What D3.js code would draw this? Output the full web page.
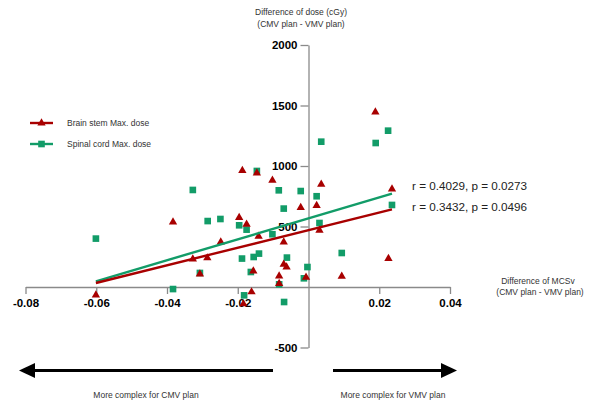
<!DOCTYPE html>
<html>
<head>
<meta charset="utf-8">
<script src="https://cdn.jsdelivr.net/npm/d3@7"></script>
<style>
  body { margin: 0; background: #fff; }
  svg { display: block; font-family: "Liberation Sans", Arial, sans-serif; }
</style>
</head>
<body>
<div id="chart"></div>
<script>
// Difference of MCSv (x) vs difference of dose in cGy (y)
const brainStem = [
  [-0.0601, -66], [-0.0383, 537], [-0.0327, 231], [-0.0307, 107], [-0.0286, 240],
  [-0.0248, 372], [-0.0196, 574], [-0.0187, 963], [-0.0184, -140], [-0.0175, 518],
  [-0.0161, -41], [-0.0156, 132], [-0.0146, 942], [-0.0141, 419], [-0.0102, 882],
  [-0.0083, 91], [-0.0083, 28], [-0.0070, 372], [-0.0070, 188], [-0.0062, 165],
  [-0.0022, 656], [-0.0007, 80], [0.0023, 673], [0.0031, 469], [0.0036, 849],
  [0.0094, 88], [0.0189, 1446], [0.0226, 235], [0.0236, 810]
];
const spinalCord = [
  [-0.0601, 400], [-0.0383, -17], [-0.0327, 802], [-0.0307, 116], [-0.0285, 545],
  [-0.0249, 562], [-0.0196, 510], [-0.0188, 235], [-0.0182, -69], [-0.0175, 474],
  [-0.0163, 124], [-0.0155, 248], [-0.0146, 959], [-0.0140, 276], [-0.0102, 436],
  [-0.0084, 799], [-0.0083, 22], [-0.0070, 648], [-0.0069, -124], [-0.0061, 243],
  [-0.0022, 793], [-0.0013, 72], [-0.0003, 165], [0.0023, 750], [0.0031, 529],
  [0.0036, 1201], [0.0094, 281], [0.0190, 1190], [0.0225, 1292], [0.0236, 678]
];
// regression line end points
const brainFit = [[-0.0601, 33], [0.0236, 642]];
const spinalFit = [[-0.0601, 47], [0.0236, 772]];

const xTicks = [-0.08, -0.06, -0.04, -0.02, 0.02, 0.04];
const yTicks = [-500, 500, 1000, 1500, 2000];
const statLabels = ['r = 0.4029, p = 0.0273', 'r = 0.3432, p = 0.0496'];
const seriesNames = ['Brain stem Max. dose', 'Spinal cord Max. dose'];

const red = '#a80000', green = '#129c68', axisGray = '#8a8a8a';

const svg = d3.select('#chart').append('svg')
  .attr('width', 589)
  .attr('height', 404);

const x = d3.scaleLinear().domain([-0.08, 0.04]).range([25.5, 450]);
const y = d3.scaleLinear().domain([-500, 2000]).range([347.5, 45]);

// axes
const xAxis = svg.append('g')
  .attr('transform', `translate(0,${y(0)})`)
  .call(d3.axisBottom(x).tickValues(xTicks).tickSize(7).tickSizeOuter(0).tickPadding(5)
    .tickFormat(d => d.toFixed(2)));
const yAxis = svg.append('g')
  .attr('transform', `translate(${x(0)},0)`)
  .call(d3.axisLeft(y).tickValues(yTicks).tickSize(8).tickSizeOuter(0).tickPadding(3)
    .tickFormat(d => String(d)));

[xAxis, yAxis].forEach(g => {
  g.selectAll('path, line').attr('stroke', axisGray).attr('stroke-width', 1.3);
  g.selectAll('text')
    .attr('fill', '#000')
    .style('font-size', '11.5px')
    .style('font-weight', 'bold')
    .style('font-family', '"Liberation Sans", Arial, sans-serif');
});

// axis titles
const titles = svg.append('g').attr('fill', '#333').style('font-size', '8.5px');
titles.append('text').attr('x', 301).attr('y', 15).attr('text-anchor', 'middle')
  .text('Difference of dose (cGy)');
titles.append('text').attr('x', 301).attr('y', 26.5).attr('text-anchor', 'middle')
  .text('(CMV plan - VMV plan)');
titles.append('text').attr('x', 538).attr('y', 283.5).attr('text-anchor', 'middle')
  .text('Difference of MCSv');
titles.append('text').attr('x', 540).attr('y', 295).attr('text-anchor', 'middle')
  .text('(CMV plan - VMV plan)');

// points
const tri = d3.symbol(d3.symbolTriangle, 30);
const sq = d3.symbol(d3.symbolSquare, 44);

svg.append('g').selectAll('path')
  .data(spinalCord).enter().append('path')
    .attr('d', sq)
    .attr('transform', d => `translate(${x(d[0])},${y(d[1])})`)
    .attr('fill', green);

svg.append('g').selectAll('path')
  .data(brainStem).enter().append('path')
    .attr('d', tri)
    .attr('transform', d => `translate(${x(d[0])},${y(d[1])})`)
    .attr('fill', red);

// regression lines
const line = d3.line().x(d => x(d[0])).y(d => y(d[1]));
svg.append('path').attr('d', line(spinalFit))
  .attr('stroke', green).attr('stroke-width', 2.4).attr('fill', 'none');
svg.append('path').attr('d', line(brainFit))
  .attr('stroke', red).attr('stroke-width', 2.4).attr('fill', 'none');

// stats
svg.append('g').selectAll('text')
  .data(statLabels).enter().append('text')
    .attr('x', 412)
    .attr('y', (d, i) => 190 + i * 21)
    .attr('fill', '#222')
    .style('font-size', '11.7px')
    .text(d => d);

// legend
const legend = svg.append('g').selectAll('g')
  .data(seriesNames).enter().append('g')
    .attr('transform', (d, i) => `translate(0,${123 + i * 21})`);
legend.append('line')
  .attr('x1', 30).attr('x2', 53)
  .attr('stroke', (d, i) => i ? green : red)
  .attr('stroke-width', 2.4);
legend.append('path')
  .attr('d', (d, i) => i ? sq() : tri())
  .attr('transform', 'translate(41.5,0)')
  .attr('fill', (d, i) => i ? green : red);
legend.append('text')
  .attr('x', 67).attr('y', 3)
  .attr('fill', '#333')
  .style('font-size', '8.5px')
  .text(d => d);

// direction arrows
const arrows = svg.append('g').attr('fill', '#000');
arrows.append('rect').attr('x', 30).attr('y', 369).attr('width', 243).attr('height', 3);
arrows.append('path').attr('d', 'M19,370.5 L35,363 L35,378 Z');
arrows.append('rect').attr('x', 333).attr('y', 369).attr('width', 112).attr('height', 3);
arrows.append('path').attr('d', 'M457,370.5 L441,363 L441,378 Z');

const notes = svg.append('g').attr('fill', '#333').style('font-size', '8.5px')
  .attr('text-anchor', 'middle');
notes.append('text').attr('x', 146).attr('y', 398).text('More complex for CMV plan');
notes.append('text').attr('x', 393).attr('y', 398).text('More complex for VMV plan');
</script>
</body>
</html>
